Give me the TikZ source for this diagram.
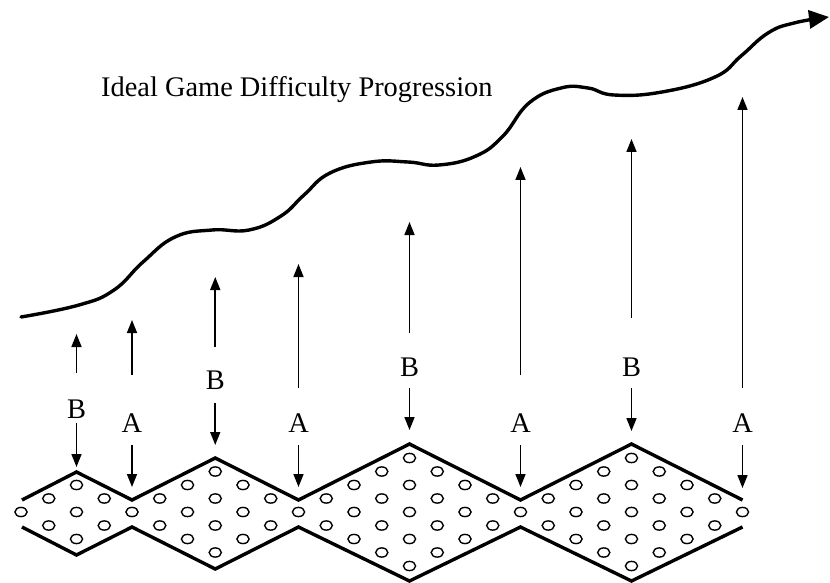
\documentclass[tikz,border=0pt]{standalone}
\usepackage{fontspec}
\setmainfont{Liberation Serif}
\usetikzlibrary{arrows.meta}
\begin{document}
\begin{tikzpicture}[x=1bp,y=-1bp,
  band/.style={line width=3.4bp, line join=miter},
  hole/.style={line width=1.4bp},
  ptr/.style={line width=1.6bp,-{Triangle[length=13bp,width=10bp]}},
  lbl/.style={font=\fontsize{28.5}{32}\selectfont, inner sep=0pt},
  curve/.style={line width=3.4bp, line cap=round, -{Triangle[length=20bp,width=18bp]}}]
\useasboundingbox (0,0) rectangle (830,583);

% title
\node[lbl, anchor=base west] (title) at (101,97) {Ideal Game Difficulty Progression};

% difficulty curve
\draw[curve] plot[smooth, tension=0.75] coordinates {
  (21,317) (79,305) (114,290) (143,262) (175,237) (212,230) (249,230)
  (281,216) (304,195) (330,173) (371,162) (408,162) (439,165) (476,156)
  (503,136) (529,103) (561,88) (588,88) (614,95) (662,92) (715,77)
  (741,56) (768,33) (794,23) (829,17)};

% band outline
\draw[band] (22,500) -- (76.5,472) -- (132,500) -- (215.25,458) -- (298.5,500)
  -- (409.5,444) -- (520.5,500) -- (631.5,444) -- (742.5,500);
\draw[band] (22,527) -- (76.5,555) -- (132,527) -- (215.25,569) -- (298.5,527)
  -- (409.5,581) -- (520.5,527) -- (631.5,581) -- (742.5,527);

% holes
\foreach \s/\k/\jfrom in {0/2/-2,4/3/-2,10/4/-3,18/4/-3} {
  \pgfmathtruncatemacro\c{\s+\k}
  \foreach \j in {\jfrom,...,\k} {
    \pgfmathtruncatemacro\nn{\k-abs(\j)}
    \foreach \m in {0,...,\nn} {
      \pgfmathsetmacro\cx{21+27.75*(\c+\j)}
      \pgfmathsetmacro\cy{512+13.5*(2*\m-\nn)}
      \draw[hole] (\cx,\cy) ellipse [x radius=6.1bp, y radius=4.6bp];
    }
  }
}

% labelled arrows
\foreach \n/\x/\ut/\ul/\t/\ly/\dl/\dt in {
  1/76.5/334/373/B/409/423/467,
  2/132/320/375/A/423/445/487,
  3/215.25/277/347/B/380/403/445,
  4/298.5/264/388/A/423/445/487,
  5/409.5/222/333/B/367/388/430,
  6/520.5/167/375/A/423/445/487,
  7/631.5/139/318/B/367/388/431,
  8/742.5/97/388/A/423/445/488} {
  \node[lbl] (lab\n) at (\x,\ly) {\t};
  \coordinate (ut\n) at (\x,\ut);
  \coordinate (ul\n) at (\x,\ul);
  \coordinate (dl\n) at (\x,\dl);
  \coordinate (dt\n) at (\x,\dt);
  \draw[ptr] (ul\n) -- (ut\n);
  \draw[ptr] (dl\n) -- (dt\n);
}
\end{tikzpicture}
\end{document}
